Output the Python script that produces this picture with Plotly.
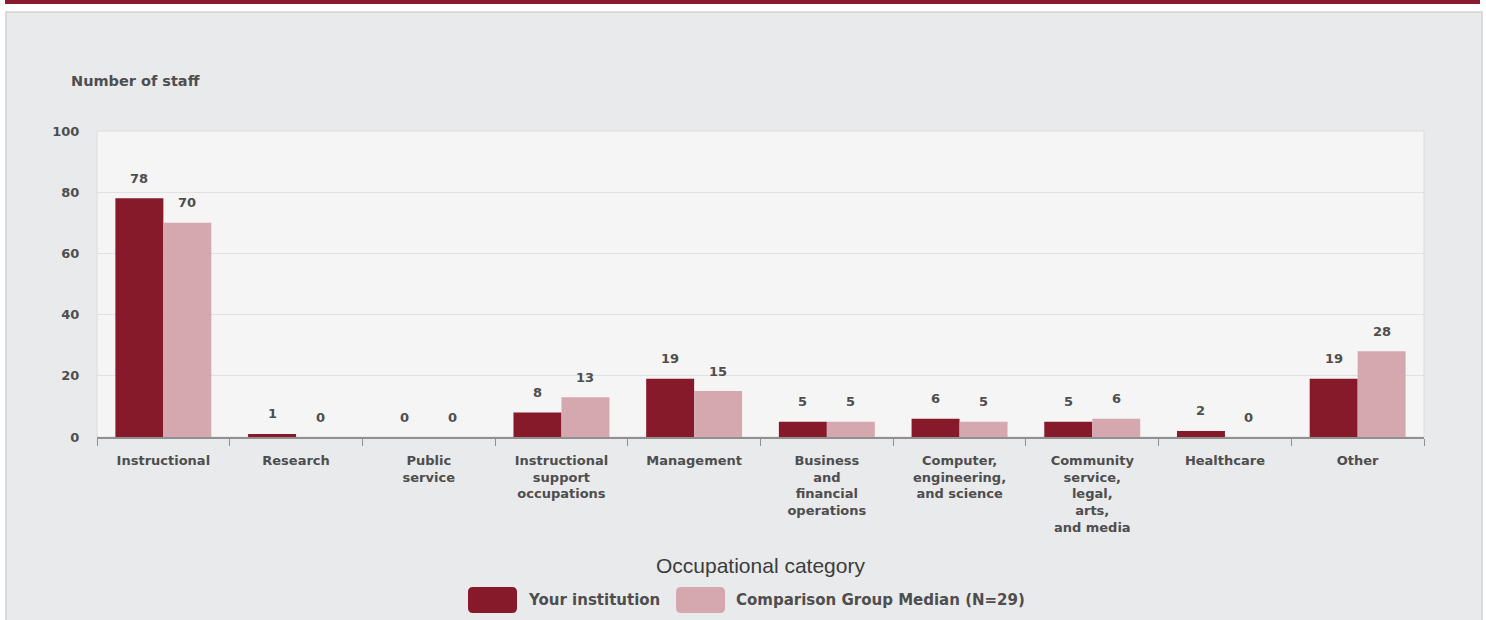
import plotly.graph_objects as go

categories = ["Instructional", "Research", "Public<br>service",
              "Instructional<br>support<br>occupations", "Management",
              "Business<br>and<br>financial<br>operations",
              "Computer,<br>engineering,<br>and science",
              "Community<br>service,<br>legal,<br>arts,<br>and media",
              "Healthcare", "Other"]
your_institution = [78, 1, 0, 8, 19, 5, 6, 5, 2, 19]
comparison_median = [70, 0, 0, 13, 15, 5, 5, 6, 0, 28]
series_names = ["Your institution", "Comparison Group Median (N=29)"]
y_ticks = [0, 20, 40, 60, 80, 100]

DARK = "#861a2b"
LIGHT = "#d5a7af"
TXT = "#4e4e4e"
FONT = "DejaVu Sans"

W, H = 1486, 620
L, R, T, B = 97, 62, 131, 183
PW, PH = W - L - R, H - T - B


def px2x(px):
    return (px - L) / PW


def py2y(py):
    return (H - B - py) / PH


def bold(s):
    return "<b>" + s + "</b>"


fig = go.Figure()
fig.add_trace(go.Bar(x=categories, y=your_institution, name=series_names[0],
                     marker=dict(color=DARK, line=dict(width=0)), showlegend=False))
fig.add_trace(go.Bar(x=categories, y=comparison_median, name=series_names[1],
                     marker=dict(color=LIGHT, line=dict(width=0)), showlegend=False))

shapes = []
# top band
shapes.append(dict(type="rect", xref="paper", yref="paper", x0=px2x(5), x1=px2x(1480),
                   y0=py2y(0), y1=py2y(4), fillcolor="#8a1a2d", line=dict(width=0), layer="below"))
# panel
shapes.append(dict(type="rect", xref="paper", yref="paper", x0=px2x(6), x1=px2x(1482),
                   y0=py2y(12), y1=py2y(640), fillcolor="#e9eaec",
                   line=dict(color="#d2d2d2", width=1.5), layer="below"))
# plot area
shapes.append(dict(type="rect", xref="paper", yref="paper", x0=0, x1=1, y0=0, y1=1,
                   fillcolor="#f5f5f6", line=dict(color="#dcdcdc", width=1), layer="below"))

annotations = []
bar_w_half = 24
for i, c in enumerate(categories):
    for vals, sh in ((your_institution, -bar_w_half), (comparison_median, bar_w_half)):
        annotations.append(dict(x=c, y=vals[i], xref="x", yref="y", text=bold(str(vals[i])),
                                showarrow=False, xshift=sh, yshift=20, yanchor="middle",
                                font=dict(family=FONT, size=13, color=TXT)))

annotations.append(dict(text=bold("Number of staff"), xref="paper", yref="paper",
                        x=px2x(69), y=py2y(81), xanchor="left", yanchor="middle",
                        showarrow=False, font=dict(family=FONT, size=14.5, color=TXT)))
annotations.append(dict(text="Occupational category", xref="paper", yref="paper",
                        x=px2x(760), y=py2y(565), xanchor="center", yanchor="middle",
                        showarrow=False, font=dict(family="Liberation Sans", size=21, color="#3c3c3c")))


def rounded_rect(x0, y0, x1, y1, r):
    X = lambda v: px2x(v)
    Y = lambda v: py2y(v)
    return (f"M {X(x0 + r)},{Y(y0)} L {X(x1 - r)},{Y(y0)} Q {X(x1)},{Y(y0)} {X(x1)},{Y(y0 + r)} "
            f"L {X(x1)},{Y(y1 - r)} Q {X(x1)},{Y(y1)} {X(x1 - r)},{Y(y1)} "
            f"L {X(x0 + r)},{Y(y1)} Q {X(x0)},{Y(y1)} {X(x0)},{Y(y1 - r)} "
            f"L {X(x0)},{Y(y0 + r)} Q {X(x0)},{Y(y0)} {X(x0 + r)},{Y(y0)} Z")


# custom legend
legend_items = [(DARK, series_names[0], 468), (LIGHT, series_names[1], 676)]
for col, name, x0 in legend_items:
    shapes.append(dict(type="path", xref="paper", yref="paper",
                       path=rounded_rect(x0, 587, x0 + 49, 613, 5),
                       fillcolor=col, line=dict(width=0)))
    annotations.append(dict(text=bold(name), xref="paper", yref="paper", x=px2x(x0 + 58), y=py2y(600),
                            xanchor="left", yanchor="middle", showarrow=False,
                            font=dict(family=FONT, size=15, color=TXT)))

fig.update_layout(
    width=W, height=H,
    margin=dict(l=L, r=R, t=T, b=B, autoexpand=False),
    paper_bgcolor="white", plot_bgcolor="rgba(0,0,0,0)",
    barmode="group", bargap=0.277, bargroupgap=0,
    showlegend=False,
    shapes=shapes, annotations=annotations,
    font=dict(family=FONT, size=12, color=TXT),
)
fig.update_xaxes(showline=True, linecolor="#909090", linewidth=2,
                 ticks="outside", tickson="boundaries", ticklen=7, tickcolor="#909090",
                 ticklabelstandoff=10,
                 tickfont=dict(family=FONT, size=13, color=TXT, weight="bold"), showgrid=False)
fig.update_yaxes(range=[0, 100], tickvals=y_ticks, showgrid=True, gridcolor="#e1e1e3",
                 gridwidth=1, zeroline=False, showline=False, ticks="outside",
                 ticklen=14, tickcolor="rgba(0,0,0,0)",
                 tickfont=dict(family=FONT, size=13, color=TXT, weight="bold"))

fig.write_html("out.html", config={"displayModeBar": False},
               post_script="document.body.style.margin='0';document.body.style.padding='0';"
                           "document.body.style.overflow='hidden';")
